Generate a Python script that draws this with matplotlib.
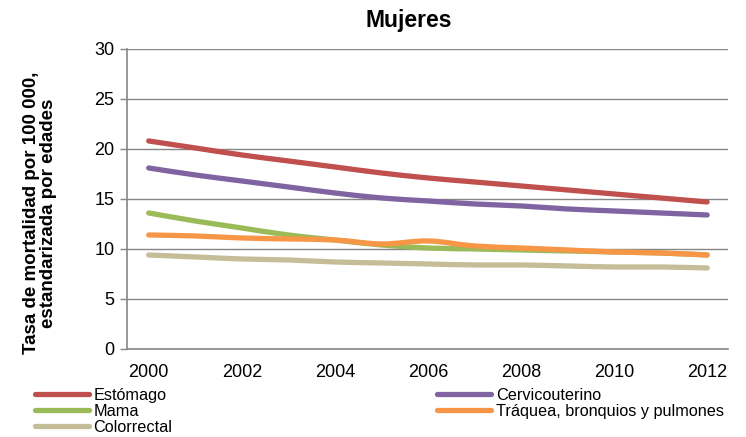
import matplotlib
matplotlib.use("Agg")
import matplotlib.pyplot as plt
from matplotlib.path import Path
from matplotlib.patches import PathPatch
from matplotlib.lines import Line2D
import numpy as np

plt.rcParams['font.family'] = ['Liberation Sans', 'DejaVu Sans']

years = list(range(2000, 2013))
estomago = [20.8, 20.1, 19.4, 18.8, 18.2, 17.6, 17.1, 16.7, 16.3, 15.9, 15.5, 15.1, 14.7]
cervicouterino = [18.1, 17.4, 16.8, 16.2, 15.6, 15.1, 14.8, 14.5, 14.3, 14.0, 13.8, 13.6, 13.4]
mama = [13.6, 12.8, 12.1, 11.4, 10.9, 10.4, 10.1, 10.0, 9.9, 9.8, 9.7, 9.6, 9.4]
traquea = [11.4, 11.3, 11.1, 11.0, 10.9, 10.5, 10.8, 10.3, 10.1, 9.9, 9.7, 9.6, 9.4]
colorrectal = [9.4, 9.2, 9.0, 8.9, 8.7, 8.6, 8.5, 8.4, 8.4, 8.3, 8.2, 8.2, 8.1]

series = [
    ("Estómago", estomago, "#C0504D"),
    ("Cervicouterino", cervicouterino, "#8064A2"),
    ("Mama", mama, "#9BBB59"),
    ("Tráquea, bronquios y pulmones", traquea, "#F79646"),
    ("Colorrectal", colorrectal, "#C4BD97"),
]
xticks = [2000, 2002, 2004, 2006, 2008, 2010, 2012]
yticks = [0, 5, 10, 15, 20, 25, 30]

fig = plt.figure(figsize=(7.46, 4.37), dpi=100)
ax = fig.add_axes([0.170, 0.2014, 0.806, 0.6866])

def smooth_path(x, y):
    x = np.asarray(x, float); y = np.asarray(y, float)
    n = len(x)
    verts = [(x[0], y[0])]
    codes = [Path.MOVETO]
    for i in range(n - 1):
        p0 = (x[i - 1], y[i - 1]) if i > 0 else (x[i], y[i])
        p1 = (x[i], y[i]); p2 = (x[i + 1], y[i + 1])
        p3 = (x[i + 2], y[i + 2]) if i + 2 < n else p2
        c1 = (p1[0] + (p2[0] - p0[0]) / 6, p1[1] + (p2[1] - p0[1]) / 6)
        c2 = (p2[0] - (p3[0] - p1[0]) / 6, p2[1] - (p3[1] - p1[1]) / 6)
        verts += [c1, c2, p2]
        codes += [Path.CURVE4] * 3
    return Path(verts, codes)

handles = {}
for name, vals, col in series:
    patch = PathPatch(smooth_path(years, vals), facecolor='none', edgecolor=col,
                      lw=3.8, capstyle='round', joinstyle='round', zorder=3)
    ax.add_patch(patch)
    handles[name] = Line2D([], [], color=col, lw=3.8, solid_capstyle='round')

ax.set_xlim(1999.53, 2012.45)
ax.set_ylim(0, 30)
ax.set_xticks(xticks)
ax.set_yticks(yticks)
ax.tick_params(axis='x', length=0, labelsize=13, pad=11)
ax.tick_params(axis='y', length=5, width=1, color='#868686', labelsize=13, pad=4, direction='out')
ax.yaxis.grid(True, color='#868686', lw=1)
ax.set_axisbelow(True)
for s in ['top', 'right']:
    ax.spines[s].set_visible(False)
for s in ['left', 'bottom']:
    ax.spines[s].set_color('#868686')
    ax.spines[s].set_linewidth(1.2)

fig.text(409 / 746, 1 - 21 / 437, "Mujeres", fontsize=16.5, fontweight='bold',
         ha='center', va='center')
fig.text(40 / 746, 1 - 213 / 437, "Tasa de mortalidad por 100 000,\nestandarizada por edades",
         fontsize=13.5, fontweight='bold', rotation=90, ha='center', va='center',
         linespacing=1.0)

common = dict(loc='upper left', frameon=False, fontsize=11.7, handlelength=3.3,
              handletextpad=0.3, labelspacing=0.05, borderpad=0, borderaxespad=0)
leg1 = fig.legend([handles[n] for n in ["Estómago", "Mama", "Colorrectal"]],
                  ["Estómago", "Mama", "Colorrectal"],
                  bbox_to_anchor=(0.047, 0.112), **common)
leg2 = fig.legend([handles[n] for n in ["Cervicouterino", "Tráquea, bronquios y pulmones"]],
                  ["Cervicouterino", "Tráquea, bronquios y pulmones"],
                  bbox_to_anchor=(0.586, 0.112), **common)

fig.savefig("out.png", dpi=100)
